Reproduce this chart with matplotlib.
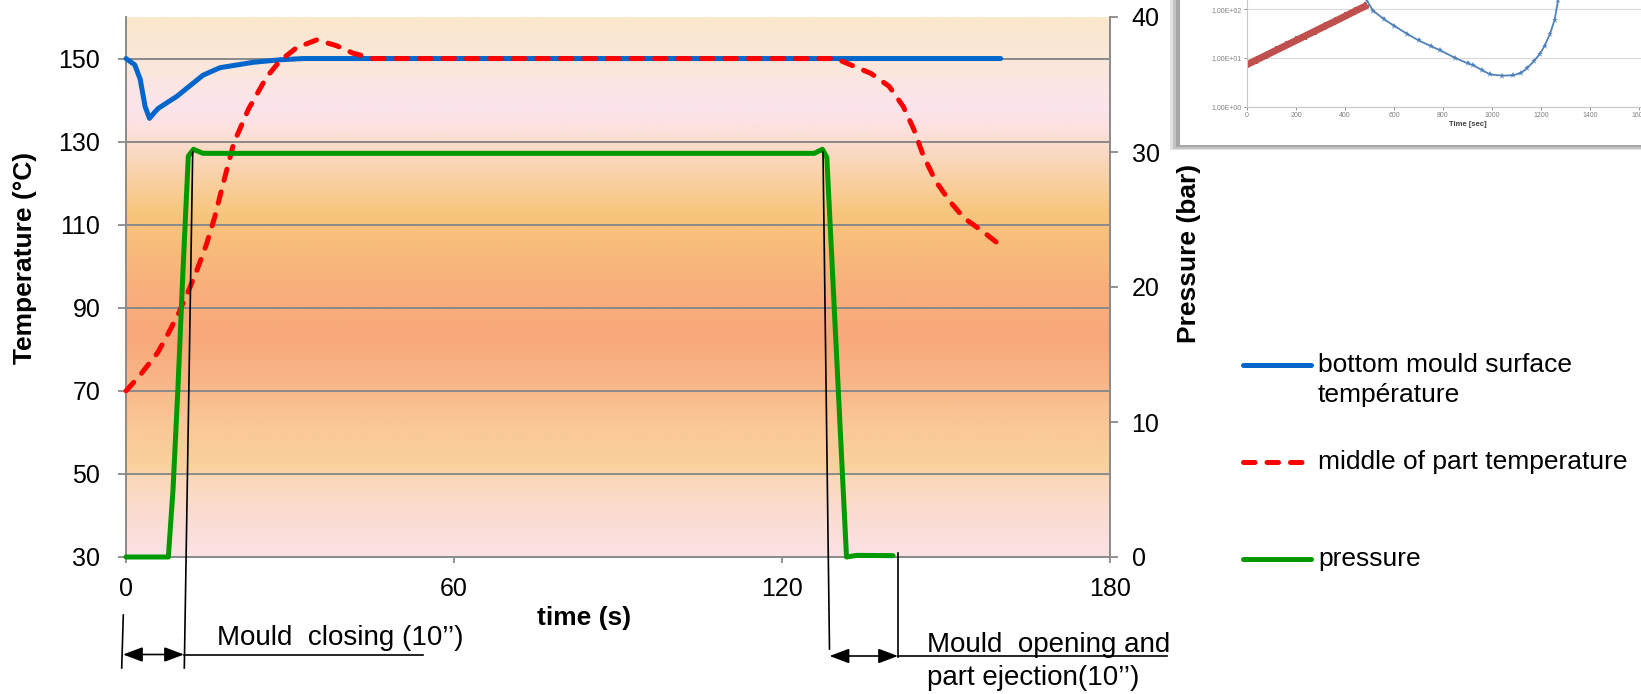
import matplotlib
matplotlib.use('Agg')
import numpy as np
import matplotlib.pyplot as plt
from matplotlib.colors import LinearSegmentedColormap
from matplotlib.lines import Line2D
from matplotlib.patches import Rectangle, FancyArrowPatch

plt.rcParams['font.family'] = ['Liberation Sans', 'DejaVu Sans']

# ---------------- data ----------------
time_blue = [0, 1.6, 2.6, 3.5, 4.3, 5.2, 5.9, 9.3, 14.1, 17.2, 23.3, 28.2, 32.4, 160]
temp_blue = [150, 148.5, 145, 138.4, 135.6, 137, 138, 140.9, 146, 147.8, 149.1, 149.7, 150, 150]

time_red = [0, 2.4, 5.8, 7.8, 9.7, 11.6, 13.1, 14.7, 16.2, 17.8, 19.7, 22.4, 25.7, 28.2,
            31.2, 34.9, 38.5, 41.5, 45.2, 129.8, 131.8, 136.3, 139.6, 142.2, 144.1,
            145.8, 148.1, 150.7, 153.3, 156.6, 159.2]
temp_red = [70, 73.5, 79.2, 84, 88.9, 94.6, 99.5, 105.2, 111.7, 120, 129.6, 137.8, 145.5, 149.5,
            152.6, 154.5, 153.1, 151.3, 150, 150, 148.9, 146.4, 143.3, 138.4, 133,
            126.8, 120.5, 115.6, 111.6, 108.5, 105.8]

time_press = [0, 7.3, 7.75, 8.6, 9.5, 10.4, 11.4, 12.35, 14.1, 125.9, 127.4, 128.2,
              131.8, 133.7, 140.3]
pressure = [0, 0, 0, 5.0, 12.5, 21.0, 29.7, 30.2, 29.9, 29.9, 30.2, 29.6,
            0, 0.12, 0.1]

x_ticks = [0, 60, 120, 180]
temp_ticks = [30, 50, 70, 90, 110, 130, 150]
press_ticks = [0, 10, 20, 30, 40]

legend_labels = ['bottom mould surface', 'température', 'middle of part temperature', 'pressure']

# inset (screenshot of a log chart)
inset_t_red = [0, 40, 80, 120, 160, 200, 240, 280, 320, 360, 400, 440, 480]
inset_v_red = [7.3, 9.2, 11.5, 14.5, 18.2, 22.9, 28.8, 36.2, 45.5, 57, 72, 91, 114]
inset_t_blue = [488, 514, 560, 600, 652, 700, 750, 788, 850, 900, 923, 960, 992, 1040,
                1086, 1120, 1142, 1170, 1196, 1215, 1237, 1255, 1270]
inset_v_blue = [155, 94, 62, 46, 31.6, 23, 17.5, 14.4, 10, 7.8, 7.1, 5.6, 4.6, 4.35,
                4.4, 5.0, 6.1, 8.5, 12.3, 18, 31.6, 60, 155]
inset_xticks = [0, 200, 400, 600, 800, 1000, 1200, 1400, 1600]
inset_yticks = [1, 10, 100]
inset_ylabels = ['1,00E+00', '1,00E+01', '1,00E+02']

# ---------------- figure ----------------
W, H = 1641, 694
fig = plt.figure(figsize=(W / 100, H / 100), dpi=100)


def fx(px):
    return px / W


def fy(py):
    return 1 - py / H


GRAY = '#8A8A8A'

ax = fig.add_axes([fx(126), fy(557), fx(1110) - fx(126), fy(17) - fy(557)])
ax.set_xlim(0, 180)
ax.set_ylim(30, 160)

# gradient background
stops = [(30, '#FCE2E6'), (40, '#FBDCD2'), (49, '#FAD8B8'), (51, '#F9D29E'),
         (62, '#F9C796'), (70, '#F9B98A'), (83, '#F8A87A'), (95, '#F8B07C'),
         (110, '#F8C27A'), (113, '#F7C57C'), (122, '#F9D2A8'), (128, '#FADAC4'),
         (133, '#FCE1DC'), (138, '#FCE4EC'), (150, '#FBE7DA'), (160, '#FAE8CC')]
pos = [(s[0] - 30) / 130 for s in stops]
cmap = LinearSegmentedColormap.from_list('bg', list(zip(pos, [s[1] for s in stops])))
grad = np.linspace(0, 1, 500).reshape(-1, 1)
ax.imshow(grad, cmap=cmap, extent=[0, 180, 30, 160], origin='lower', aspect='auto',
          interpolation='bilinear', zorder=0)

ax.set_xticks(x_ticks)
ax.set_yticks(temp_ticks)
ax.grid(axis='y', color=GRAY, lw=1.4)
ax.grid(axis='x', visible=False)
ax.tick_params(axis='y', direction='out', length=6, width=1.3, color=GRAY, labelsize=18, pad=12.5)
ax.tick_params(axis='x', direction='out', length=4.5, width=1.3, color=GRAY, labelsize=18, pad=10)
for s in ['top', 'right']:
    ax.spines[s].set_visible(False)
for s in ['left', 'bottom']:
    ax.spines[s].set_color(GRAY)
    ax.spines[s].set_linewidth(1.4)

ax.plot(time_blue, temp_blue, color='#0066CC', lw=3.6, solid_capstyle='round',
        solid_joinstyle='round', zorder=3, clip_on=False)
ax.plot(time_red, temp_red, color='#FF0000', lw=3.6, dashes=(2.3, 2.4),
        dash_capstyle='round', zorder=4, clip_on=False)

ax2 = ax.twinx()
ax2.set_ylim(0, 40)
ax2.set_yticks(press_ticks)
ax2.tick_params(axis='y', direction='out', length=6, width=1.3, color=GRAY, labelsize=18, pad=9.5)
for s in ['top', 'left', 'bottom']:
    ax2.spines[s].set_visible(False)
ax2.spines['right'].set_color(GRAY)
ax2.spines['right'].set_linewidth(1.4)
ax2.plot(time_press, pressure, color='#009900', lw=3.6, solid_capstyle='round',
         solid_joinstyle='round', clip_on=False)

# axis titles
fig.text(fx(25), fy(258), 'Temperature (°C)', rotation=90, ha='center', va='center',
         fontsize=19, fontweight='bold')
fig.text(fx(1189), fy(253), 'Pressure (bar)', rotation=90, ha='center', va='center',
         fontsize=19, fontweight='bold')
fig.text(fx(584), fy(618), 'time (s)', ha='center', va='center', fontsize=19, fontweight='bold')

# ---------------- annotations ----------------
def fline(x0, y0, x1, y1, lw=1.2):
    fig.add_artist(Line2D([fx(x0), fx(x1)], [fy(y0), fy(y1)], transform=fig.transFigure,
                          color='black', lw=lw, zorder=6))


def farrow(x0, x1, y):
    fig.add_artist(FancyArrowPatch((fx(x0), fy(y)), (fx(x1), fy(y)), transform=fig.transFigure,
                                   arrowstyle='<|-|>,head_length=0.8,head_width=0.3',
                                   mutation_scale=15, color='black', lw=1.2,
                                   shrinkA=0, shrinkB=0, zorder=6))


fline(192.7, 152, 184.3, 668)
fline(123.3, 615, 121.7, 668)
farrow(123, 184, 654.5)
fline(184, 654.5, 423, 654.5)
fig.text(fx(216.7), fy(645), 'Mould  closing (10’’)', ha='left', va='baseline', fontsize=20)

fline(823, 152, 829.5, 649)
fline(898, 553, 898, 657)
farrow(829.5, 898, 656)
fline(898, 656, 1167, 656)
fig.text(fx(926.7), fy(651.7), 'Mould  opening and', ha='left', va='baseline', fontsize=20)
fig.text(fx(926.7), fy(685), 'part ejection(10’’)', ha='left', va='baseline', fontsize=20)

# ---------------- legend ----------------
fig.add_artist(Line2D([fx(1243), fx(1311)], [fy(364.5), fy(364.5)], transform=fig.transFigure,
                      color='#0066CC', lw=3.6, solid_capstyle='round'))
fig.add_artist(Line2D([fx(1243), fx(1305)], [fy(462), fy(462)], transform=fig.transFigure,
                      color='#FF0000', lw=3.6, dashes=(2.3, 2.4), dash_capstyle='round'))
fig.add_artist(Line2D([fx(1243), fx(1311)], [fy(559), fy(559)], transform=fig.transFigure,
                      color='#009900', lw=3.6, solid_capstyle='round'))
fig.text(fx(1318), fy(372), legend_labels[0], ha='left', va='baseline', fontsize=19)
fig.text(fx(1318), fy(402), legend_labels[1], ha='left', va='baseline', fontsize=19)
fig.text(fx(1318), fy(469), legend_labels[2], ha='left', va='baseline', fontsize=19)
fig.text(fx(1318), fy(566), legend_labels[3], ha='left', va='baseline', fontsize=19)

# ---------------- inset screenshot ----------------
for off, a in [(10, 0.25), (7, 0.35), (4, 0.5)]:
    fig.add_artist(Rectangle((fx(1180 - off), fy(145 + off * 0.5)), 1 - fx(1180 - off),
                             fy(0) - fy(145 + off * 0.5) + 0.02, transform=fig.transFigure,
                             facecolor='#8C8C8C', edgecolor='none', alpha=a, zorder=3))
fig.add_artist(Rectangle((fx(1180), fy(145)), 1 - fx(1180), fy(0) - fy(145) + 0.02,
                         transform=fig.transFigure, facecolor='white', edgecolor='none', zorder=3.5))

axi = fig.add_axes([fx(1247), fy(106.7), 1 - fx(1247), fy(0) - fy(106.7)], zorder=5)
axi.patch.set_alpha(0)
axi.set_yscale('log')
axi.set_xlim(0, 1608)
axi.set_ylim(1, 155)
axi.set_xticks(inset_xticks)
axi.set_yticks(inset_yticks)
axi.set_yticklabels(inset_ylabels)
axi.minorticks_off()
axi.tick_params(labelsize=5, colors='#808080', length=2, width=0.6, pad=2)
axi.grid(axis='y', color='#D9D9D9', lw=0.8)
for s in ['top', 'right']:
    axi.spines[s].set_visible(False)
for s in ['left', 'bottom']:
    axi.spines[s].set_color('#C8C8C8')
    axi.spines[s].set_linewidth(0.8)
axi.plot(inset_t_red, inset_v_red, color='#C0504D', lw=5, marker='P', ms=6, mew=0)
axi.plot(inset_t_blue, inset_v_blue, color='#4F81BD', lw=1.3, marker='*', ms=4.5, mew=0)
fig.text(fx(1468), fy(124), 'Time [sec]', ha='center', va='center', fontsize=5.5,
         fontweight='bold', color='#404040', zorder=6)

fig.savefig('out.png', dpi=100)
